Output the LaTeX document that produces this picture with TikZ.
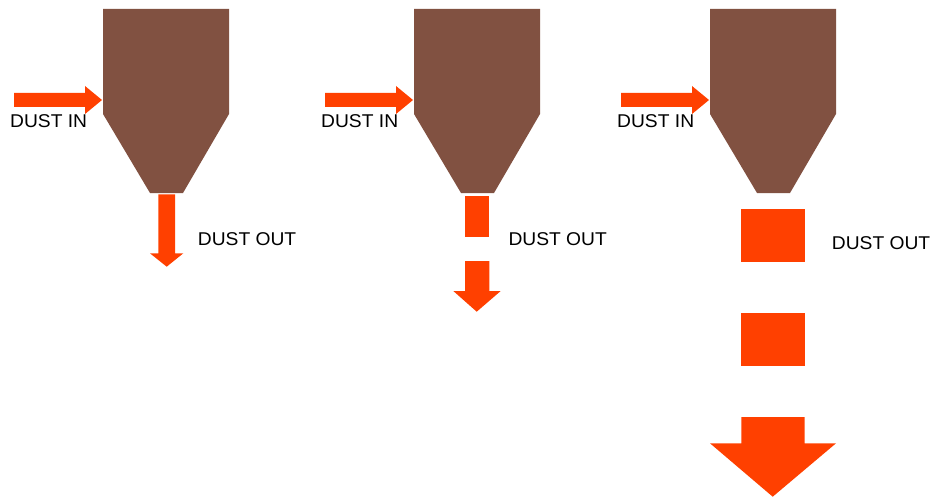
\documentclass[tikz,border=0pt]{standalone}
\usepackage{fontspec}
\setmainfont{Liberation Sans}[FakeStretch=1.04]
\definecolor{hopperbrown}{RGB}{129,81,65}
\definecolor{dustred}{RGB}{255,64,0}
\begin{document}
\begin{tikzpicture}[x=1pt, y=-1pt,
  hopper/.style={fill=hopperbrown},
  dust/.style={fill=dustred},
  tag/.style={font=\fontsize{18.5}{20}\selectfont, anchor=base west, inner sep=0pt}
]
\useasboundingbox (0,0) rectangle (933,500);

% Hoppers, inlet arrows and labels
\foreach \x/\n in {103/1, 414/2, 710/3} {
  \fill[hopper] (\x,9) -- ++(126,0) -- ++(0,105) -- ++(-46,79) -- ++(-33,0) -- ++(-47,-79) -- cycle;
  \fill[dust] (\x-89,93) -- (\x-18,93) -- (\x-18,86) -- (\x-1,100) -- (\x-18,114) -- (\x-18,107) -- (\x-89,107) -- cycle;
  \node[tag] (in\n) at (\x-93,127.7) {DUST IN};
}

% Outlet 1: one arrow
\fill[dust] (158.3,194.3) -- (175,194.3) -- (175,253.3) -- (183.3,253.3) -- (166.7,266.7) -- (150,253.3) -- (158.3,253.3) -- cycle;
\node[tag] (out1) at (197.7,245) {DUST OUT};

% Outlet 2: block and arrow
\fill[dust] (465,196) rectangle (489.3,236.7);
\fill[dust] (465,261) -- (489.3,261) -- (489.3,291) -- (500.7,291) -- (476.7,311.7) -- (453.3,291) -- (465,291) -- cycle;
\node[tag] (out2) at (508.3,245.7) {DUST OUT};

% Outlet 3: two blocks and big arrow
\fill[dust] (741.3,209) rectangle (804.7,261.7);
\fill[dust] (741.3,313.3) rectangle (804.7,366);
\fill[dust] (741.3,417) -- (804.7,417) -- (804.7,443.3) -- (836,443.3) -- (772.7,496.7) -- (710,443.3) -- (741.3,443.3) -- cycle;
\node[tag] (out3) at (831.7,249.3) {DUST OUT};
\end{tikzpicture}
\end{document}
